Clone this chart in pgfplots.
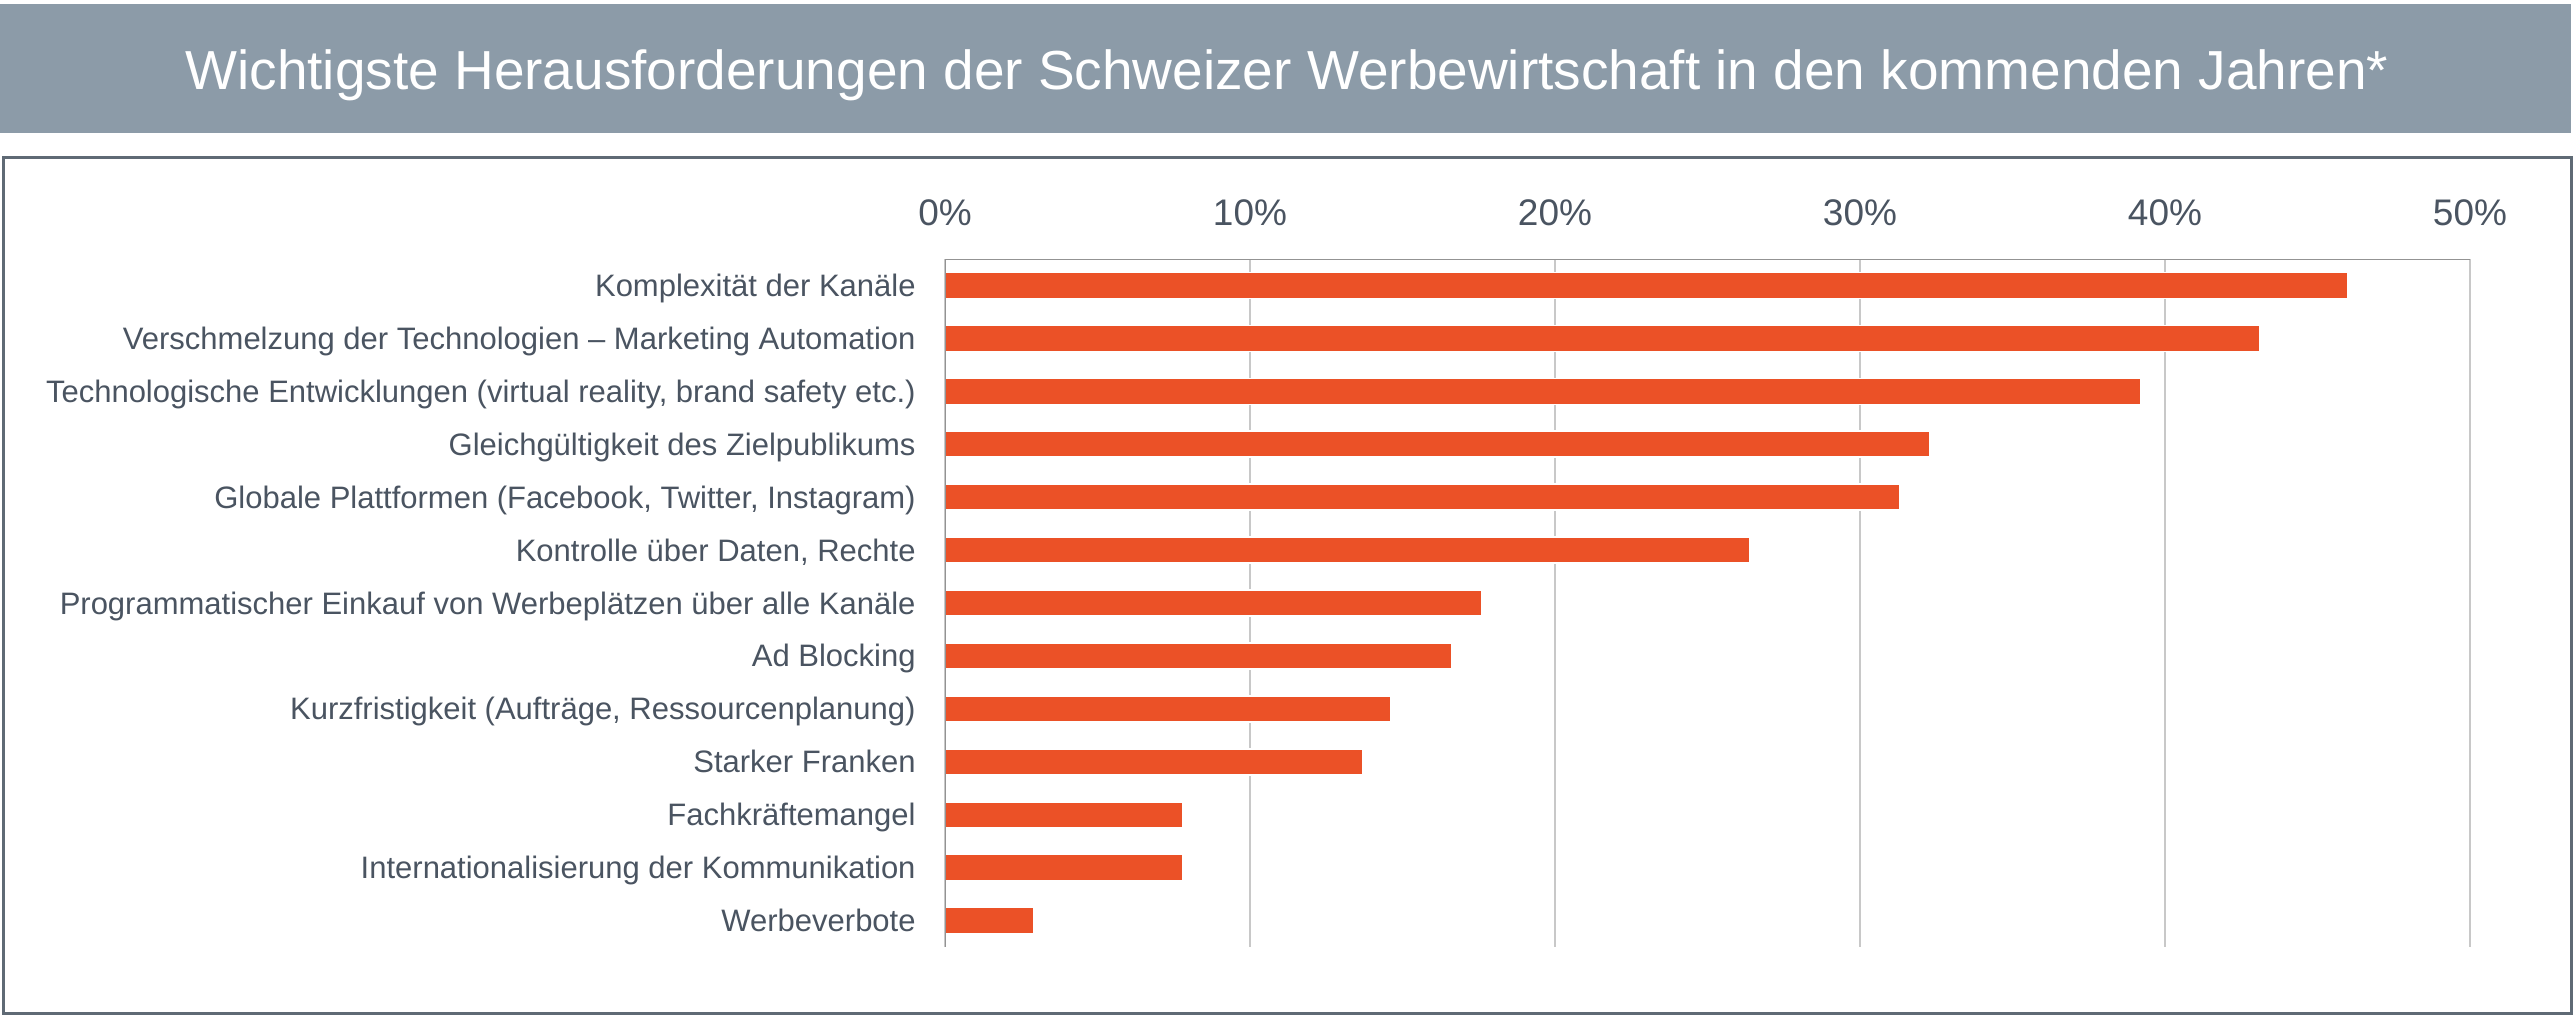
\documentclass[border=0pt]{standalone}
\usepackage{fontspec}
\setmainfont{Liberation Sans}
\usepackage{pgfplots}
\pgfplotsset{compat=1.18}

\definecolor{band}{HTML}{8C9BA8}
\definecolor{framec}{HTML}{5F6A75}
\definecolor{txt}{HTML}{4A5461}
\definecolor{barc}{HTML}{EB5127}
\definecolor{gridc}{HTML}{C8C8C8}
\definecolor{axisc}{HTML}{939393}

\begin{document}
\begin{tikzpicture}
\useasboundingbox (0,0) rectangle (1287pt,-510pt);
\fill[white] (0,0) rectangle (1287pt,-510pt);
% title band
\fill[band] (0,-2pt) rectangle (1285.5pt,-66.5pt);
\node[anchor=base, text=white, inner sep=0pt, font=\fontsize{27.5}{32}\selectfont]
  at (643.5pt,-45pt) {Wichtigste Herausforderungen der Schweizer Werbewirtschaft in den kommenden Jahren*};
% chart frame
\draw[framec, line width=1.5pt] (1.5pt,-79pt) rectangle (1285.5pt,-506.5pt);

\begin{axis}[
  at={(472.5pt,-129.5pt)}, anchor=north west,
  width=762.5pt, height=344pt, scale only axis,
  xmin=0, xmax=50, ymin=-0.5, ymax=12.5, y dir=reverse,
  axis line style={draw=none},
  /pgf/number format/assume math mode=true,
  xtick={0,10,20,30,40,50}, xticklabel pos=upper,
  xticklabel={\pgfmathprintnumber{\tick}\%},
  major tick length=0pt,
  xmajorgrids, major grid style={gridc, line width=1pt},
  xticklabel style={font=\fontsize{18.5}{20}\selectfont, text=txt, anchor=base, inner sep=0pt, yshift=17pt},
  ytick={0,...,12},
  yticklabels={
    Komplexität der Kanäle,
    Verschmelzung der Technologien – Marketing Automation,
    {Technologische Entwicklungen (virtual reality, brand safety etc.)},
    Gleichgültigkeit des Zielpublikums,
    {Globale Plattformen (Facebook, Twitter, Instagram)},
    {Kontrolle über Daten, Rechte},
    Programmatischer Einkauf von Werbeplätzen über alle Kanäle,
    Ad Blocking,
    {Kurzfristigkeit (Aufträge, Ressourcenplanung)},
    Starker Franken,
    Fachkräftemangel,
    Internationalisierung der Kommunikation,
    Werbeverbote},
  yticklabel style={font=\fontsize{15.5}{18}\selectfont, text=txt, anchor=base east, inner sep=0pt, xshift=-14.5pt, yshift=-5.5pt},
]
\addplot[xbar, bar width=13pt, fill=barc, draw=white, line width=0.8pt]
  coordinates {(46.0,0) (43.1,1) (39.2,2) (32.3,3) (31.3,4) (26.4,5) (17.6,6)
               (16.6,7) (14.6,8) (13.7,9) (7.8,10) (7.8,11) (2.9,12)};
\draw[axisc, line width=1.4pt] (axis cs:0,-0.5) -- (axis cs:50,-0.5);
\draw[axisc, line width=0.8pt] (axis cs:0,-0.5) -- (axis cs:0,12.5);
\end{axis}
\end{tikzpicture}
\end{document}
